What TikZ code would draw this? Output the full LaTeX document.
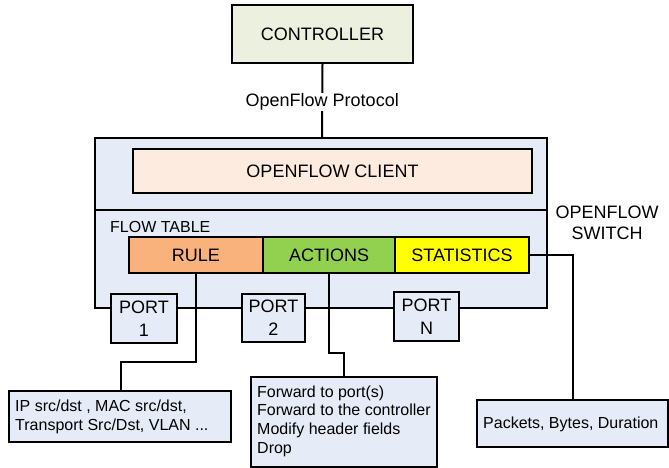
\documentclass[tikz,border=0pt]{standalone}
\usepackage{fontspec}
\setmainfont{Liberation Sans}
\definecolor{ctrlfill}{HTML}{EBF1DE}
\definecolor{clientfill}{HTML}{FDEBDF}
\definecolor{swfill}{HTML}{E6ECF7}
\definecolor{rulefill}{HTML}{F9B27C}
\definecolor{actfill}{HTML}{92D050}
\definecolor{statfill}{HTML}{FFFF00}
\tikzset{
  box/.style={draw=black, line width=2pt, rectangle, inner sep=0pt, align=center,
    font=\fontsize{18}{23}\selectfont},
  desc/.style={draw=black, line width=2pt, rectangle, fill=swfill, inner sep=0pt,
    font=\fontsize{16}{18.5}\selectfont},
  conn/.style={line width=2pt}
}
\begin{document}
\begin{tikzpicture}[x=1pt,y=-1pt]
\useasboundingbox (0,0) rectangle (669,468);
% controller
\node[box, fill=ctrlfill, minimum width=181pt, minimum height=58pt] (ctrl) at (322.5,34) {CONTROLLER};
% switch
\node[box, fill=swfill, minimum width=452pt, minimum height=170pt] (switch) at (321,223) {};
\coordinate (divl) at (95,210);
\coordinate (divr) at (547,210);
\draw[conn] (divl) -- (divr);
% protocol connector
\coordinate (swtop) at (322,138);
\draw[conn] (ctrl.south) -- (swtop)
  node[midway, fill=white, inner sep=1pt, font=\fontsize{18}{22}\selectfont, yshift=-1pt] (proto) {OpenFlow Protocol};
% client
\node[box, fill=clientfill, minimum width=399pt, minimum height=44pt] (client) at (332.5,171) {OPENFLOW CLIENT};
% flow table
\node[anchor=west, inner sep=0pt, font=\fontsize{16}{18}\selectfont] (ftlabel) at (110,227) {FLOW TABLE};
\node[box, fill=rulefill, minimum width=134pt, minimum height=36pt] (rule) at (196,255) {RULE};
\node[box, fill=actfill, minimum width=132pt, minimum height=36pt] (actions) at (329,255) {ACTIONS};
\node[box, fill=statfill, minimum width=134pt, minimum height=36pt] (stats) at (462,255) {STATISTICS};
% switch label
\node[align=center, inner sep=0pt, font=\fontsize{18}{21}\selectfont] (swlabel) at (607,223) {OPENFLOW\\SWITCH};
% ports
\node[box, fill=swfill, minimum width=66pt, minimum height=49pt] (port1) at (144,318.5) {PORT\\1};
\node[box, fill=swfill, minimum width=63pt, minimum height=48pt] (port2) at (273.5,318) {PORT\\2};
\node[box, fill=swfill, minimum width=65pt, minimum height=49pt] (portn) at (426.5,316.5) {PORT\\N};
% description boxes
\node[desc, minimum width=222pt, minimum height=51pt] (ruledesc) at (120,416.5) {};
\node[anchor=west, inner sep=0pt, align=left, font=\fontsize{16}{18.5}\selectfont] (ruletext) at (15,417) {IP src/dst , MAC src/dst,\\Transport Src/Dst, VLAN ...};
\node[desc, minimum width=186pt, minimum height=90pt] (actdesc) at (344,422) {};
\node[anchor=west, inner sep=0pt, align=left, font=\fontsize{16}{18.6}\selectfont] (acttext) at (257,421) {Forward to port(s)\\Forward to the controller\\Modify header fields\\Drop};
\node[desc, minimum width=191pt, minimum height=47pt] (statdesc) at (572.5,423.5) {};
\node[anchor=west, inner sep=0pt, font=\fontsize{16}{18.5}\selectfont] (stattext) at (483,424) {Packets, Bytes, Duration};
% connectors
\coordinate (rk) at (121,362);
\draw[conn] (rule.south) |- (rk) -- (rk |- ruledesc.north);
\coordinate (ak) at (344,353);
\draw[conn] (actions.south) |- (ak) -- (actdesc.north);
\draw[conn] (stats.east) -| (statdesc.north);
\end{tikzpicture}
\end{document}
